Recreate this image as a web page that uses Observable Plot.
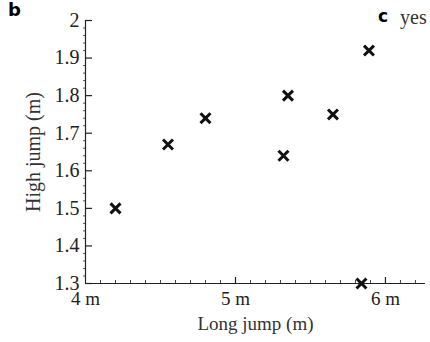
<!DOCTYPE html>
<html>
<head>
<meta charset="utf-8">
<script src="https://cdn.jsdelivr.net/npm/d3@7"></script>
<script src="https://cdn.jsdelivr.net/npm/@observablehq/plot@0.6"></script>
<style>
  body { margin: 0; background: #fff; }
  #wrap { position: relative; width: 430px; height: 342px; overflow: hidden; background: #fff; }
  #wrap svg text { font-family: "Liberation Serif", "Times New Roman", serif; }
  .panel { position: absolute; font-family: "DejaVu Sans", sans-serif; font-weight: bold; color: #000; line-height: 1; }
  .yes { position: absolute; font-family: "Liberation Serif", serif; color: #333; line-height: 1; }
</style>
</head>
<body>
<div id="wrap"></div>
<script>
// Data
const longJump = [4.2, 4.55, 4.8, 5.35, 5.32, 5.65, 5.89, 5.84];
const highJump = [1.50, 1.67, 1.74, 1.80, 1.64, 1.75, 1.92, 1.30];
const yTicks = [1.3, 1.4, 1.5, 1.6, 1.7, 1.8, 1.9, 2];
const yTickLabels = ["1.3", "1.4", "1.5", "1.6", "1.7", "1.8", "1.9", "2"];
const xTicks = [4, 5, 6];
const xTickLabels = ["4 m", "5 m", "6 m"];
const xDomain = [4, 6.267];
const yDomain = [1.3, 2];
const xLabel = "Long jump (m)";
const yLabel = "High jump (m)";

const points = longJump.map((x, i) => ({x, y: highJump[i]}));
const xMinor = d3.range(41, 63).map(d => d / 10).filter(d => !xTicks.includes(d));
const yMinor = d3.range(65, 101).map(d => d / 50).filter(d => !yTicks.some(t => Math.abs(t - d) < 1e-9));

const serif = "'Liberation Serif', 'Times New Roman', serif";

const chart = Plot.plot({
  width: 430,
  height: 342,
  marginLeft: 85,
  marginRight: 5,
  marginTop: 20,
  marginBottom: 59,
  style: {fontFamily: serif, background: "#fff", color: "#222"},
  x: {domain: xDomain, axis: null},
  y: {domain: yDomain, axis: null},
  marks: [
    // axis lines
    Plot.ruleX([xDomain[0]], {y1: yDomain[0], y2: yDomain[1], stroke: "#222", strokeWidth: 1.2}),
    Plot.ruleY([yDomain[0]], {x1: xDomain[0], x2: xDomain[1], stroke: "#222", strokeWidth: 1.2}),
    // y major ticks (inward)
    Plot.ruleY(yTicks, {x1: xDomain[0], x2: xDomain[0], insetRight: -7, stroke: "#222", strokeWidth: 1.2}),
    // y minor ticks (outward, tiny)
    Plot.ruleY(yMinor, {x1: xDomain[0], x2: xDomain[0], insetLeft: -2, stroke: "#555", strokeWidth: 1}),
    // x major ticks (inward)
    Plot.ruleX(xTicks.slice(1), {y1: yDomain[0], y2: yDomain[0], insetTop: -6, stroke: "#222", strokeWidth: 1.2}),
    // x minor ticks
    Plot.ruleX(xMinor, {y1: yDomain[0], y2: yDomain[0], insetTop: -3, stroke: "#444", strokeWidth: 1}),
    // tick labels
    Plot.text(yTicks, {x: xDomain[0], y: d => d, text: (d, i) => yTickLabels[i], dx: -6, textAnchor: "end",
      fontSize: 20, fontFamily: serif, fill: "#222"}),
    Plot.text(xTicks, {x: d => d, y: yDomain[0], text: (d, i) => xTickLabels[i], dy: 15, textAnchor: "middle",
      fontSize: 19, fontFamily: serif, fill: "#222"}),
    // axis titles
    Plot.text([xLabel], {frameAnchor: "bottom", textAnchor: "middle", dy: 46, fontSize: 19, fontFamily: serif, fill: "#333"}),
    Plot.text([yLabel], {frameAnchor: "left", textAnchor: "middle", rotate: -90, dx: -52, fontSize: 20, fontFamily: serif, fill: "#333"}),
    // data
    Plot.dot(points, {x: "x", y: "y", symbol: "times", r: 4.6, stroke: "#111", strokeWidth: 3})
  ]
});

const wrap = document.getElementById("wrap");
wrap.appendChild(chart);

const b = document.createElement("div");
b.className = "panel"; b.textContent = "b";
b.style.left = "8px"; b.style.top = "1px"; b.style.fontSize = "18px";
wrap.appendChild(b);

const c = document.createElement("div");
c.className = "panel"; c.textContent = "c";
c.style.left = "378px"; c.style.top = "8px"; c.style.fontSize = "17px";
wrap.appendChild(c);

const y = document.createElement("div");
y.className = "yes"; y.textContent = "yes";
y.style.left = "400px"; y.style.top = "7px"; y.style.fontSize = "20px";
wrap.appendChild(y);
</script>
</body>
</html>
